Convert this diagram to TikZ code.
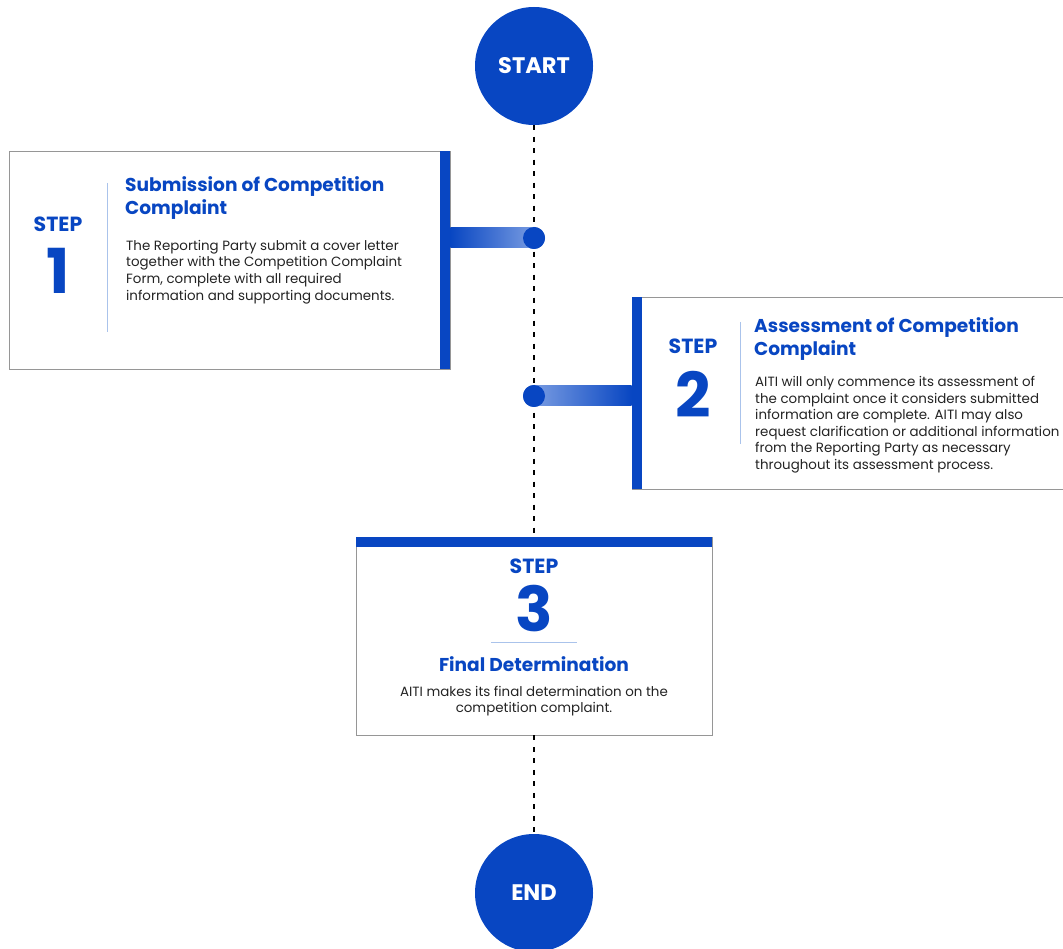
\documentclass[tikz,border=0pt]{standalone}
\usepackage{fontspec}
\setmainfont{Poppins}
\definecolor{bl}{RGB}{8,70,194}
\definecolor{lbl}{RGB}{120,155,225}
\definecolor{sep}{RGB}{170,195,235}
\definecolor{bordergray}{RGB}{150,150,150}
\definecolor{txt}{RGB}{35,35,35}
\begin{document}
\begin{tikzpicture}[x=1pt,y=-1pt,
  circ/.style={circle,fill=bl,minimum size=118pt,inner sep=0pt,text=white,font=\fontsize{22.5}{26}\selectfont\bfseries},
  dotn/.style={circle,fill=bl,minimum size=22pt,inner sep=0pt},
  stepbox/.style={draw=bordergray,line width=0.8pt,fill=white,inner sep=0pt},
  dotline/.style={draw=black,line width=2.4pt,dash pattern=on 5pt off 6.5pt},
  steplbl/.style={text=bl,font=\fontsize{20.5}{22}\selectfont\bfseries,inner sep=0pt},
  stepnum/.style={text=bl,font=\fontsize{62}{62}\selectfont\bfseries,inner sep=0pt},
  ttl/.style={text=bl,font=\fontsize{18.6}{23}\selectfont\bfseries,inner sep=0pt,align=left,anchor=north west},
  body/.style={text=txt,font=\fontsize{13.4}{16.6}\selectfont,inner sep=0pt,align=left,anchor=north west},
  vsep/.style={draw=sep,line width=1pt}
]
\useasboundingbox (0,0) rectangle (1063,949);
\fill[white] (0,0) rectangle (1063,949);

% boxes
\node[stepbox,minimum width=441pt,minimum height=218pt] (s1) at (229.5,260) {};
\node[stepbox,minimum width=445pt,minimum height=192pt] (s2) at (854.5,393) {};
\node[stepbox,minimum width=356pt,minimum height=198pt] (s3) at (534,636) {};

% circles
\node[circ] (start) at (534,66) {START};
\node[circ] (end) at (534,893) {END};

% dotted timeline
\draw[dotline] (start.south) -- (s3.north);
\draw[dotline] (s3.south) -- (end.north);

% dots
\node[dotn] (d1) at (534,238) {};
\node[dotn] (d2) at (534,396) {};

% connector bars
\shade[left color=bl,right color=lbl] ([yshift=10pt]s1.east |- d1) rectangle ([yshift=-10pt]d1.center);
\shade[left color=lbl,right color=bl] ([yshift=10pt]d2.center) rectangle ([yshift=-10pt]s2.west |- d2);
\node[dotn] at (d1) {};
\node[dotn] at (d2) {};

% blue accent bars
\fill[bl] ([xshift=-10pt]s1.north east) rectangle (s1.south east);
\fill[bl] (s2.north west) rectangle ([xshift=10pt]s2.south west);
\fill[bl] (s3.north west) rectangle ([yshift=-10pt]s3.north east);

% step 1 content
\node[steplbl] (st1) at (58,224) {STEP};
\node[stepnum] (n1) at (58,271) {1};
\draw[vsep] (107,183) -- (107,332);
\node[ttl] (t1) at (125,176) {Submission of Competition\\Complaint};
\node[body] (b1) at (126,240) {The Reporting Party submit a cover letter\\together with the Competition Complaint\\Form, complete with all required\\information and supporting documents.};

% step 2 content
\node[steplbl] (st2) at (693,346) {STEP};
\node[stepnum] (n2) at (693,394) {2};
\draw[vsep] (740,322) -- (740,444);
\node[ttl] (t2) at (754,317) {Assessment of Competition\\Complaint};
\node[body] (b2) at (755,376) {AITI will only commence its assessment of\\the complaint once it considers submitted\\information are complete. AITI may also\\request clarification or additional information\\from the Reporting Party as necessary\\throughout its assessment process.};

% step 3 content
\node[steplbl] (st3) at (534,566) {STEP};
\node[stepnum] (n3) at (534,609) {3};
\draw[vsep] (491,642) -- (577,642);
\node[text=bl,font=\fontsize{18.6}{22}\selectfont\bfseries,inner sep=0pt] (t3) at (534,664) {Final Determination};
\node[text=txt,font=\fontsize{13.4}{16.6}\selectfont,inner sep=0pt,align=center] (b3) at (534,701) {AITI makes its final determination on the\\competition complaint.};
\end{tikzpicture}
\end{document}
